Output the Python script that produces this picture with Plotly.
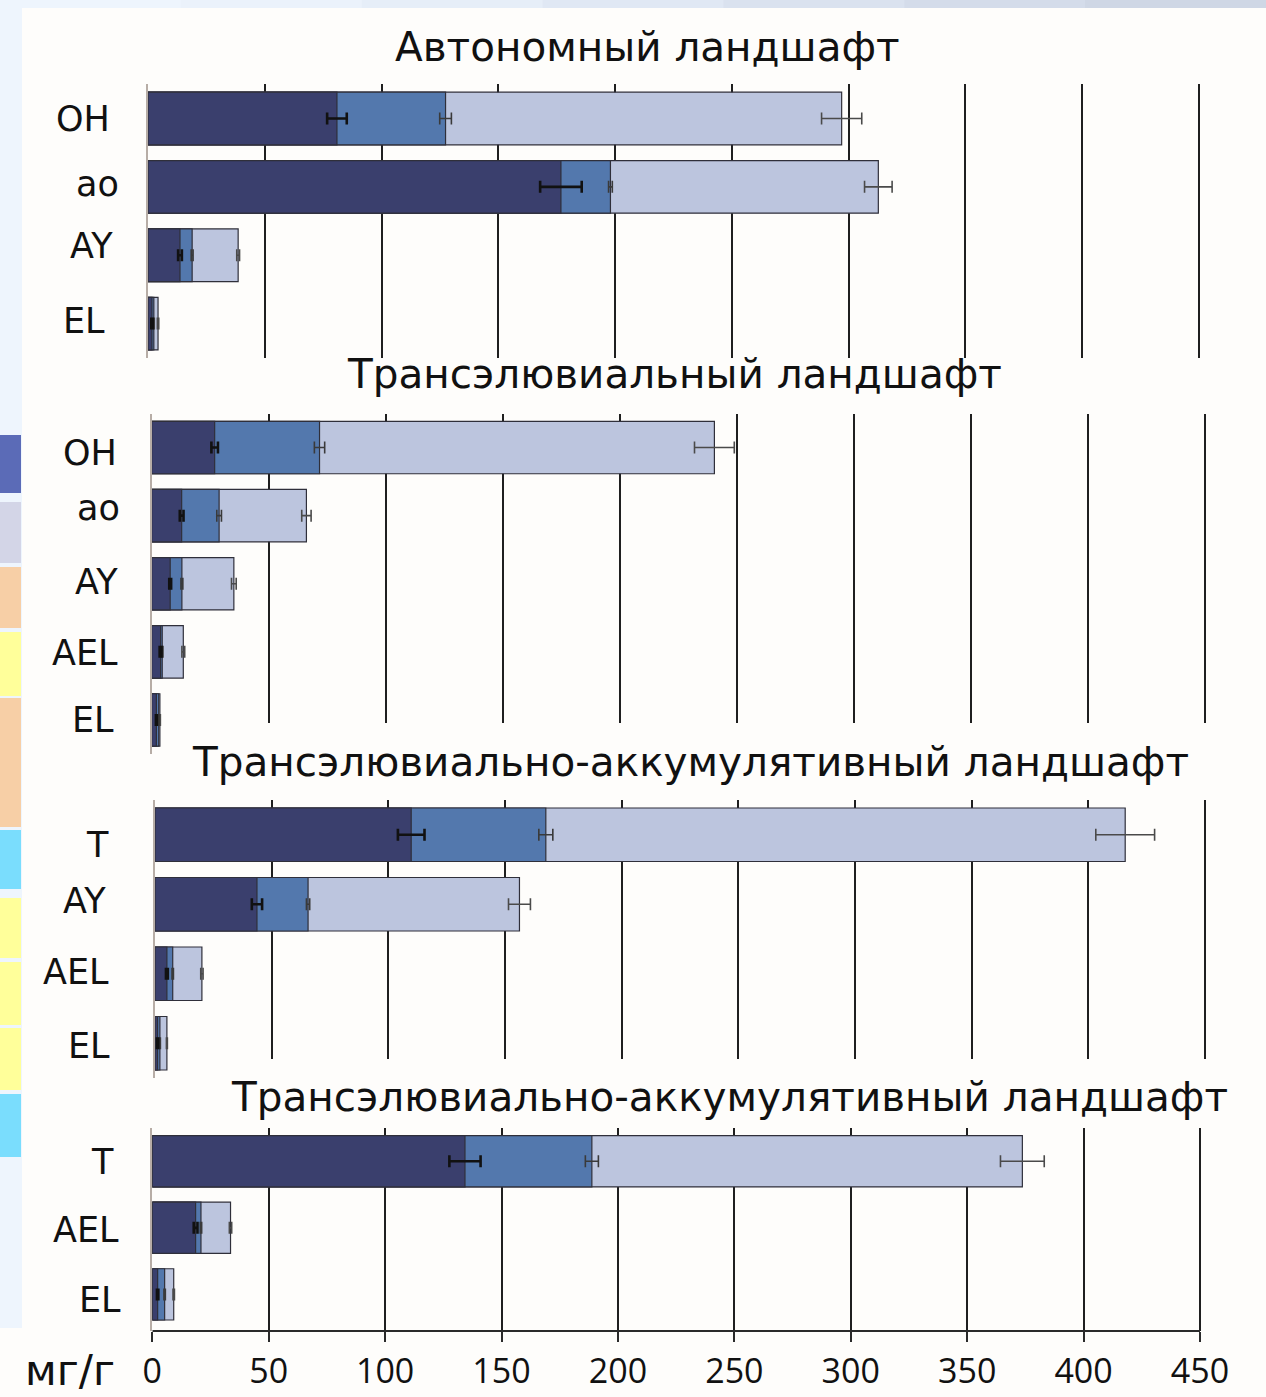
import numpy as np
import plotly.graph_objects as go

W, H = 1266, 1397

# ---- data: three stacked fractions (mg/g) per soil horizon, with errors ----
p1_cats = ["OH", "ao", "AY", "EL"]
p1_f1 = [80.9, 176.8, 13.7, 1.7]
p1_f2 = [46.5, 21.2, 5.2, 0.8]
p1_f3 = [169.6, 114.7, 19.7, 1.8]
p1_e1 = [4.2, 8.9, 0.8, 0.3]
p1_e2 = [2.5, 0.8, 0.4, 0.2]
p1_e3 = [8.6, 5.9, 0.6, 0.3]

p2_cats = ["OH", "ao", "AY", "AEL", "EL"]
p2_f1 = [26.9, 12.8, 7.9, 3.8, 2.0]
p2_f2 = [44.8, 16.0, 5.0, 0.7, 1.0]
p2_f3 = [168.7, 37.3, 22.2, 9.0, 0.5]
p2_e1 = [1.4, 0.8, 0.4, 0.4, 0.2]
p2_e2 = [2.2, 1.0, 0.4, 0.3, 0.2]
p2_e3 = [8.5, 2.0, 1.0, 0.6, 0.2]

p3_cats = ["T", "AY", "AEL", "EL"]
p3_f1 = [109.8, 43.7, 5.1, 1.1]
p3_f2 = [57.7, 21.9, 2.5, 1.0]
p3_f3 = [248.3, 90.6, 12.5, 3.0]
p3_e1 = [5.7, 2.2, 0.4, 0.3]
p3_e2 = [3.0, 0.7, 0.3, 0.2]
p3_e3 = [12.6, 4.7, 0.5, 0.2]

p4_cats = ["T", "AEL", "EL"]
p4_f1 = [134.3, 18.6, 2.3]
p4_f2 = [54.5, 2.3, 3.0]
p4_f3 = [184.9, 12.7, 3.9]
p4_e1 = [6.7, 0.8, 0.3]
p4_e2 = [2.8, 0.3, 0.3]
p4_e3 = [9.4, 0.5, 0.3]

titles = [
    "Автономный ландшафт",
    "Трансэлювиальный ландшафт",
    "Трансэлювиально-аккумулятивный ландшафт",
    "Трансэлювиально-аккумулятивный ландшафт",
]
x_ticks = [0, 50, 100, 150, 200, 250, 300, 350, 400, 450]
unit_label = "мг/г"

# ---- styling ----
C_DARK, C_MED, C_LIGHT = "#3A3F6D", "#5378AD", "#BCC5DE"
EDGE = "#2F2F3A"
GRID = "#1F1F1F"
LABEL_FONT = dict(family="DejaVu Sans", size=35, color="#111111")
TITLE_FONT = dict(family="DejaVu Sans", size=40.5, color="#111111")
BG = "#FEFDFB"
X_MAX = 450
X_PAD = 1.5  # small overshoot so the last grid line at 450 is kept

# panel geometry in pixels: x of value 0, x of value 450, top, bottom, range end
panels = [
    dict(cats=p1_cats, f=(p1_f1, p1_f2, p1_f3), e=(p1_e1, p1_e2, p1_e3),
         x0=148, x1=1199, top=84.3, bot=357.8, rmax=3.5),
    dict(cats=p2_cats, f=(p2_f1, p2_f2, p2_f3), e=(p2_e1, p2_e2, p2_e3),
         x0=151.7, x1=1205, top=413.5, bot=754, rmax=4.5),
    dict(cats=p3_cats, f=(p3_f1, p3_f2, p3_f3), e=(p3_e1, p3_e2, p3_e3),
         x0=155, x1=1205, top=800, bot=1078, rmax=3.5),
    dict(cats=p4_cats, f=(p4_f1, p4_f2, p4_f3), e=(p4_e1, p4_e2, p4_e3),
         x0=152.3, x1=1200, top=1128, bot=1331, rmax=2.55),
]

# label placement: (x centre in px, vertical shift in px) per category
label_pos = [
    [(83, -1), (97, 3), (91.5, 9), (84, 2.5)],
    [(90, -5.5), (98, 8), (96.7, 2), (84.7, -1), (93, 0)],
    [(97.5, -9.8), (84.5, 3.3), (75.5, 1.3), (88.5, -3.2)],
    [(102, -1.2), (85.7, -1.7), (100, -6)],
]
title_pos = [(647, 47), (674, 374), (690, 762), (729, 1097)]


def px_x(x):
    return x / W


def px_y(y):
    return 1 - y / H


fig = go.Figure()
layout = dict(
    width=W, height=H, margin=dict(l=0, r=0, t=0, b=0, pad=0, autoexpand=False),
    paper_bgcolor=BG, plot_bgcolor=BG, barmode="overlay",
    showlegend=False, annotations=[], shapes=[],
)

for i, p in enumerate(panels, start=1):
    xa = "x" if i == 1 else f"x{i}"
    ya = "y" if i == 1 else f"y{i}"
    ends = np.cumsum(np.array(p["f"], dtype=float), axis=0)
    colors = (C_DARK, C_MED, C_LIGHT)
    err_style = (("#111111", 2.6), ("#3A3A3A", 1.6), ("#4A4A4A", 1.6))
    # draw the longest (cumulative) bar first so shorter ones sit on top
    for k in (2, 1, 0):
        fig.add_trace(go.Bar(
            x=ends[k], y=p["cats"], orientation="h", width=0.77,
            marker=dict(color=colors[k], line=dict(color=EDGE, width=1.2)),
            error_x=dict(type="data", array=p["e"][k], visible=True,
                         color=err_style[k][0], thickness=err_style[k][1], width=6),
            xaxis=xa, yaxis=ya, hoverinfo="x+y",
        ))
    xkey = "xaxis" if i == 1 else f"xaxis{i}"
    ykey = "yaxis" if i == 1 else f"yaxis{i}"
    ppu = (p["x1"] - p["x0"]) / X_MAX
    xdict = dict(
        domain=[px_x(p["x0"]), px_x(p["x1"] + X_PAD * ppu)], range=[0, X_MAX + X_PAD],
        anchor=ya, zeroline=False, fixedrange=True, automargin=False,
    )
    if i < 4:
        xdict.update(tickmode="array", tickvals=x_ticks[1:], showticklabels=False,
                     ticks="", showgrid=True, gridcolor=GRID, gridwidth=2.2,
                     showline=False)
    else:
        xdict.update(tickmode="array", tickvals=x_ticks, ticktext=[str(v) for v in x_ticks],
                     showticklabels=True, ticks="outside", ticklen=10, tickwidth=2,
                     tickcolor="#2A2A2A", showgrid=False,
                     showline=False,
                     tickfont=dict(family="Open Sans", size=34, color="#111111"),
                     minor=dict(tickmode="array", tickvals=x_ticks[1:], showgrid=True,
                                gridcolor=GRID, gridwidth=2.2, ticks=""))
    layout[xkey] = xdict
    layout[ykey] = dict(
        domain=[px_y(p["bot"]), px_y(p["top"])], anchor=xa,
        type="category", categoryorder="array", categoryarray=p["cats"],
        range=[p["rmax"], -0.5], showticklabels=False, ticks="",
        showgrid=False, zeroline=False, fixedrange=True, automargin=False,
        showline=True, linecolor="#B7ADA6", linewidth=1.6,
    )
    for cat, (lx, dy) in zip(p["cats"], label_pos[i - 1]):
        layout["annotations"].append(dict(
            text=cat, xref="paper", x=px_x(lx), xanchor="center",
            yref=ya, y=cat, yanchor="middle", yshift=dy,
            showarrow=False, font=LABEL_FONT,
        ))

# bottom axis baseline, spanning 0..450 on the lowest panel
layout["shapes"].append(dict(
    type="line", xref="x4", yref="y4 domain", x0=0, x1=X_MAX, y0=0, y1=0,
    line=dict(color="#2A2A2A", width=2), layer="above",
))

# titles
for t, (tx, ty) in zip(titles, title_pos):
    layout["annotations"].append(dict(
        text=t, xref="paper", yref="paper", x=px_x(tx), y=px_y(ty),
        xanchor="center", yanchor="middle", showarrow=False, font=TITLE_FONT,
    ))

# unit label beside the bottom axis
layout["annotations"].append(dict(
    text=unit_label, xref="paper", yref="paper", x=px_x(70), y=px_y(1370),
    xanchor="center", yanchor="middle", showarrow=False,
    font=dict(family="DejaVu Sans", size=42, color="#111111"),
))


def rect(x0, y0, x1, y1, color, layer="above"):
    return dict(type="rect", xref="paper", yref="paper",
                x0=px_x(x0), x1=px_x(x1), y0=px_y(y1), y1=px_y(y0),
                fillcolor=color, line=dict(width=0), layer=layer)


# white panels behind the lower titles
layout["shapes"].append(rect(170, 723, 1215, 798, BG))
layout["shapes"].append(rect(215, 1059, 1232, 1126, BG))

# light frame along the top and left edges of the slide
strip_cols = ["#EEF5FD", "#EBF2FB", "#E6EEF8", "#E0E8F4", "#DAE2EF", "#D4DCEA", "#CFD7E5"]
seg = W / len(strip_cols)
for j, c in enumerate(strip_cols):
    layout["shapes"].append(rect(j * seg, 0, (j + 1) * seg + 1, 8, c))
layout["shapes"].append(rect(0, 0, 22, 1328, "#EEF5FD"))

# coloured legend swatches peeking in at the left edge
swatches = [
    (435, 493, "#5B6BB7"), (502, 563, "#D3D5E7"), (567, 628, "#F7CFA6"),
    (632, 696, "#FFFF9A"), (698, 827, "#F7CFA6"), (830, 889, "#7ADDFD"),
    (898, 958, "#FFFF9A"), (962, 1025, "#FFFF9A"), (1028, 1090, "#FFFF9A"),
    (1094, 1157, "#7ADDFD"),
]
for y0, y1, c in swatches:
    layout["shapes"].append(rect(0, y0, 21, y1, c))

fig.update_layout(**layout)
fig.write_html("out.html")
